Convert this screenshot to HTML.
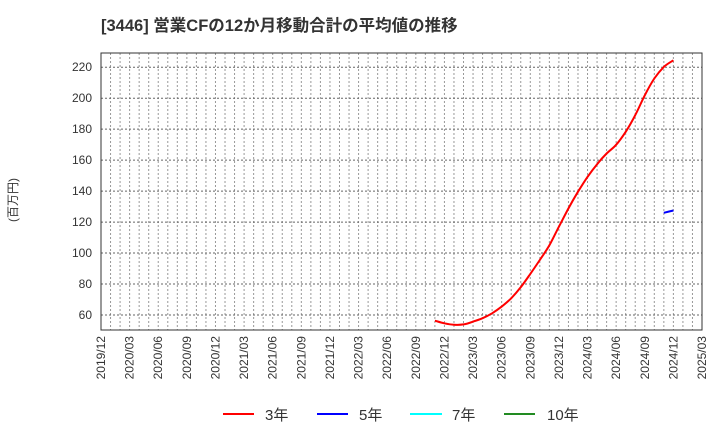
<!DOCTYPE html>
<html><head><meta charset="utf-8"><style>
body{margin:0;background:#fff;width:720px;height:440px;overflow:hidden;font-family:"Liberation Sans","Noto Sans CJK JP",sans-serif;}
svg text{font-family:"Liberation Sans","Noto Sans CJK JP",sans-serif;}
</style></head><body>
<svg id="chart" width="720" height="440" xmlns="http://www.w3.org/2000/svg">
<text x="101" y="31" font-size="16.5" font-weight="bold" fill="#333">[3446]  営業CFの12か月移動合計の平均値の推移</text>
<text transform="translate(17,200) rotate(-90)" font-size="12" fill="#333" text-anchor="middle">(百万円)</text>
<g id="grid"></g>
<g id="series"></g>
<rect x="101" y="53" width="601" height="277" fill="none" stroke="#333" stroke-width="1"/>
<g id="yticks"></g>
<g id="xticks"></g>
<g>
<g><line x1="223" y1="414" x2="254" y2="414" stroke="#ff0000" stroke-width="2"/><text x="265" y="420" font-size="15" fill="#333">3年</text></g>
<g><line x1="317" y1="414" x2="348" y2="414" stroke="#0000ff" stroke-width="2"/><text x="359" y="420" font-size="15" fill="#333">5年</text></g>
<g><line x1="410" y1="414" x2="442" y2="414" stroke="#00ffff" stroke-width="2"/><text x="452" y="420" font-size="15" fill="#333">7年</text></g>
<g><line x1="504" y1="414" x2="535" y2="414" stroke="#228b22" stroke-width="2"/><text x="547" y="420" font-size="15" fill="#333">10年</text></g>
</g>
</svg>
<script>
const xTickLabels = ["2019/12","2020/03","2020/06","2020/09","2020/12","2021/03","2021/06","2021/09","2021/12","2022/03","2022/06","2022/09","2022/12","2023/03","2023/06","2023/09","2023/12","2024/03","2024/06","2024/09","2024/12","2025/03"];
const yTickValues = [60,80,100,120,140,160,180,200,220];
const series3yStart = 35; // months after 2019/12 (2022/11)
const series3y = [56.3,54.6,53.7,53.9,55.7,57.9,61.1,65.4,70.8,77.9,86.5,95.5,105,117,128.8,139.6,149.2,157.4,164.3,169.9,178.3,189,201.9,212.7,220.2,224.5];
const series5yStart = 59; // 2024/11
const series5y = [126,127.5];

const NS="http://www.w3.org/2000/svg";
const X0=101,X1=702,Y0=330,Y1=53,MONTHS=63,VMIN=50.3,VMAX=229.2;
function xs(m){return X0+(X1-X0)*m/MONTHS;}
function ys(v){return Y0-(Y0-Y1)*(v-VMIN)/(VMAX-VMIN);}
function mk(tag,attrs,parent){const e=document.createElementNS(NS,tag);for(const k in attrs)e.setAttribute(k,attrs[k]);parent.appendChild(e);return e;}
const grid=document.getElementById('grid');
for(let m=1;m<MONTHS;m++){
  const l=mk('line',{x1:xs(m),x2:xs(m),y1:Y1,y2:Y0,stroke:'#999','stroke-width':1,'stroke-dasharray':'2,2'},grid);
  
  
}
const yt=document.getElementById('yticks');
yTickValues.forEach(v=>{
  const l=mk('line',{x1:X0,x2:X1,y1:ys(v),y2:ys(v),stroke:'#666','stroke-width':1,'stroke-dasharray':'2,2'},grid);
  
  
  const t=mk('text',{x:92,y:ys(v)+4,'font-size':12,fill:'#333','text-anchor':'end'},yt);
  t.textContent=v;
  
  
});
const xt=document.getElementById('xticks');
xTickLabels.forEach((s,i)=>{
  const x=xs(i*3);
  const t=mk('text',{transform:`translate(${x+4},336) rotate(-90)`,'font-size':12,fill:'#333','text-anchor':'end'},xt);
  t.textContent=s;
  
  
});
function drawLine(arr,start,color,name){
  const P=arr.map((v,i)=>[xs(start+i),ys(v)]);
  let d='M'+P[0][0].toFixed(1)+','+P[0][1].toFixed(1);
  for(let i=0;i<P.length-1;i++){
    const p0=P[Math.max(0,i-1)],p1=P[i],p2=P[i+1],p3=P[Math.min(P.length-1,i+2)];
    const c1=[p1[0]+(p2[0]-p0[0])/6,p1[1]+(p2[1]-p0[1])/6];
    const c2=[p2[0]-(p3[0]-p1[0])/6,p2[1]-(p3[1]-p1[1])/6];
    d+=` C${c1[0].toFixed(1)},${c1[1].toFixed(1)} ${c2[0].toFixed(1)},${c2[1].toFixed(1)} ${p2[0].toFixed(1)},${p2[1].toFixed(1)}`;
  }
  const p=mk('path',{d:d,fill:'none',stroke:color,'stroke-width':2,'stroke-linejoin':'round'},document.getElementById('series'));
  
  
}
drawLine(series3y,series3yStart,'#ff0000','line-3y');
drawLine(series5y,series5yStart,'#0000ff','line-5y');
</script>
</body></html>
